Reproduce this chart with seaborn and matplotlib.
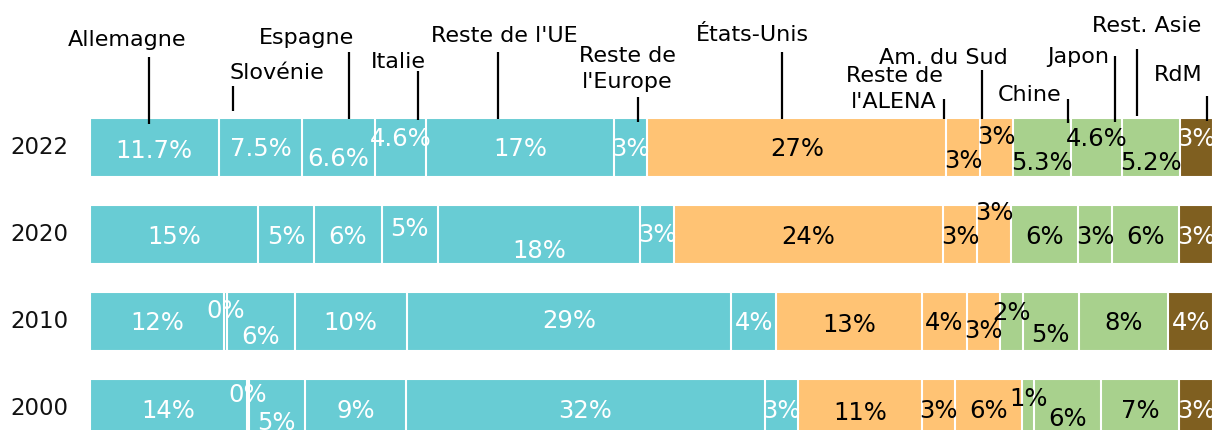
import matplotlib
matplotlib.use("Agg")
import matplotlib.pyplot as plt
import pandas as pd
import seaborn as sns

# Parts (%) par destination
years = ["2022", "2020", "2010", "2000"]
regions = ["Allemagne", "Slovénie", "Espagne", "Italie", "Reste de l'UE",
           "Reste de\nl'Europe", "États-Unis", "Reste de\nl'ALENA", "Am. du Sud",
           "Chine", "Japon", "Rest. Asie", "RdM"]
share_2022 = [11.7, 7.5, 6.6, 4.6, 17, 3, 27, 3, 3, 5.3, 4.6, 5.2, 3]
share_2020 = [15, 5, 6, 5, 18, 3, 24, 3, 3, 6, 3, 6, 3]
share_2010 = [12, 0.3, 6, 10, 29, 4, 13, 4, 3, 2, 5, 8, 4]
share_2000 = [14, 0.2, 5, 9, 32, 3, 11, 3, 6, 1, 6, 7, 3]

TEAL, ORANGE, GREEN, BROWN = "#68CCD4", "#FFC374", "#A8D18D", "#7F5F20"
colors = [TEAL] * 6 + [ORANGE] * 3 + [GREEN] * 3 + [BROWN]
text_colors = ["white"] * 6 + ["black"] * 6 + ["white"]

# petits décalages verticaux (px) des étiquettes pour éviter les chevauchements
label_shift = {
    "2022": [2, 0, 10, -10, 0, 0, 0, 12, -12, 13, -10, 14, -10],
    "2020": [0, 0, 0, -8, 15, -2, 0, 0, -24, 0, 0, 0, 0],
    "2010": [0, -12, 13, 0, -3, 0, 1, 0, 8, -11, 11, -1, 0],
    "2000": [0, -15, 12, 0, 0, 0, 2, 0, 0, -12, 8, 0, 0],
}
# repères du haut : position du trait dans le segment 2022, haut/bas du trait,
# décalage horizontal du texte et ligne de base (px)
leader_frac = [0.46, 0.17, 0.64, 0.84, 0.38, 0.72, 0.45, -0.07, 0.07, 0.95, 0.86, 0.26, 0.82]
leader_top = [57, 86, 52, 71, 52, 97, 52, 99, 70, 99, 56, 49, 96]
leader_bottom = [124, 111, 119, 120, 119, 122, 119, 119, 119, 123, 122, 116, 121]
text_dx = [-22, 44, -42, -20, 7, -11, -30, -50, -38, -39, -37, 9, -29]
text_base = [46, 79, 44, 68, 42, 62, 41, 82, 64, 101, 63, 32, 81]

W, H = 1214, 430
X0, XW = 89.6, 1123.5      # début et largeur des barres (px)
Y0, DY = 147.5, 87.0       # centre de la 1re barre et pas entre barres (px)


def py(p):
    return (p - Y0) / DY


def px_dx(p):
    return p / XW * 100


rows = []
for year, shares in zip(years, [share_2022, share_2020, share_2010, share_2000]):
    total = sum(shares)
    cum = 0.0
    for region, v in zip(regions, shares):
        pct = v / total * 100
        rows.append({"year": year, "region": region, "value": v,
                     "start": cum, "pct": pct, "end": cum + pct})
        cum += pct
df = pd.DataFrame(rows)

sns.set_theme(style="white")
plt.rcParams["font.family"] = ["DejaVu Sans"]

fig = plt.figure(figsize=(W / 100, H / 100), dpi=100)
ax = fig.add_axes([0, 0, 1, 1])

# barres empilées : on dessine les cumuls de droite à gauche
for region, color in reversed(list(zip(regions, colors))):
    sub = df[df["region"] == region]
    sns.barplot(data=sub, x="end", y="year", order=years, orient="h",
                color=color, saturation=1, width=59 / DY, errorbar=None,
                edgecolor="white", linewidth=1.5, ax=ax)

ax.set_xlim(-X0 / XW * 100, (W - X0) / XW * 100)
ax.set_ylim(py(H), py(0))
ax.axis("off")

for i, year in enumerate(years):
    ax.text(px_dx(39 - X0), i, year, ha="center", va="center", fontsize=16.5, color="#111111")
    sub = df[df["year"] == year].reset_index(drop=True)
    for j, r in sub.iterrows():
        v = r["value"]
        lab = f"{v:g}%" if v >= 1 else f"{v:.0f}%"
        ax.text(r["start"] + r["pct"] / 2, i + (label_shift[year][j] + 2) / DY, lab,
                ha="center", va="center", fontsize=17.5, color=text_colors[j])

top = df[df["year"] == years[0]].reset_index(drop=True)
for j, r in top.iterrows():
    lx = r["start"] + leader_frac[j] * r["pct"]
    ax.plot([lx, lx], [py(leader_top[j]), py(leader_bottom[j])], color="black", lw=1.6,
            solid_capstyle="butt")
    for k, line in enumerate(regions[j].split("\n")):
        ax.text(lx + px_dx(text_dx[j]), py(text_base[j] + k * 26), line,
                ha="center", va="baseline", fontsize=16, color="black")

fig.savefig("out.png", dpi=100)
